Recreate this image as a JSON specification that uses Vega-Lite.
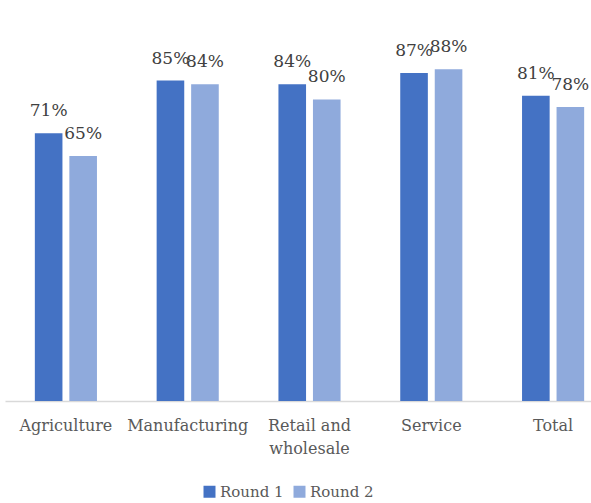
{
  "$schema": "https://vega.github.io/schema/vega-lite/v6.json",
  "autosize": "none",
  "width": 586,
  "height": 377,
  "padding": {"left": 5, "top": 24, "right": 0, "bottom": 102},
  "background": "white",
  "config": {"view": {"stroke": null}, "font": "DejaVu Serif"},
  "data": {"values": [
    {"sector": "Agriculture", "round": "Round 1", "value": 0.71},
    {"sector": "Agriculture", "round": "Round 2", "value": 0.65},
    {"sector": "Manufacturing", "round": "Round 1", "value": 0.85},
    {"sector": "Manufacturing", "round": "Round 2", "value": 0.84},
    {"sector": "Retail and wholesale", "round": "Round 1", "value": 0.84},
    {"sector": "Retail and wholesale", "round": "Round 2", "value": 0.80},
    {"sector": "Service", "round": "Round 1", "value": 0.87},
    {"sector": "Service", "round": "Round 2", "value": 0.88},
    {"sector": "Total", "round": "Round 1", "value": 0.81},
    {"sector": "Total", "round": "Round 2", "value": 0.78}
  ]},
  "encoding": {
    "x": {"field": "sector", "type": "nominal", "sort": null,
      "scale": {"range": [0, 609], "paddingInner": 0.49, "paddingOuter": 0.245},
      "axis": {"title": null, "labelAngle": 0, "ticks": false, "domainColor": "#D9D9D9", "domainWidth": 1.5,
        "labelFontSize": 16, "labelColor": "#595959", "labelPadding": 16, "labelLineHeight": 23,
        "labelFont": "DejaVu Serif",
        "labelExpr": "datum.value == 'Retail and wholesale' ? ['Retail and', 'wholesale'] : datum.value"}},
    "xOffset": {"field": "round", "type": "nominal", "scale": {"paddingInner": 0.2}},
    "y": {"field": "value", "type": "quantitative", "scale": {"domain": [0, 1]}, "axis": null}
  },
  "layer": [
    {"mark": {"type": "bar"},
     "encoding": {"color": {"field": "round", "type": "nominal",
       "scale": {"domain": ["Round 1", "Round 2"], "range": ["#4472C4", "#8FAADC"]},
       "legend": {"title": null, "orient": "none", "legendX": 197, "legendY": 460, "direction": "horizontal", "symbolType": "square",
         "symbolSize": 144, "symbolStrokeWidth": 0, "labelFontSize": 15, "labelColor": "#595959",
         "labelFont": "DejaVu Serif", "columnPadding": 8, "labelOffset": 3}}}},
    {"mark": {"type": "text", "dy": -22, "fontSize": 17, "color": "#404040", "font": "DejaVu Serif"},
     "encoding": {"text": {"field": "value", "type": "quantitative", "format": ".0%"}}}
  ]
}
